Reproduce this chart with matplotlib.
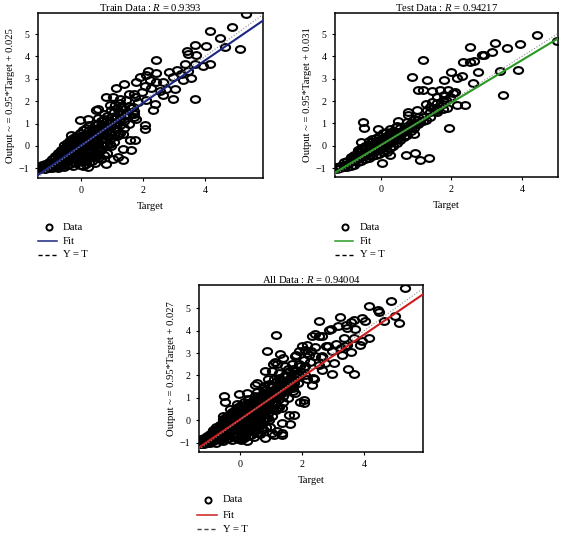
"""Regression plots (train / test / all) for the fitted network."""
import matplotlib

matplotlib.use("Agg")
import matplotlib.pyplot as plt  # noqa: E402
import numpy as np
from matplotlib.lines import Line2D
from matplotlib.path import Path
from matplotlib.transforms import Affine2D

W, H = 563, 534

# (target, output) pairs
train_points = [
    # dense core along the diagonal
    (-1.35, -1.0), (-1.35, -0.95),
    (-1.25, -1.05), (-1.25, -0.95), (-1.25, -0.85),
    (-1.15, -1.0), (-1.15, -0.9), (-1.15, -0.8), (-1.15, -1.05),
    (-1.05, -1.0), (-1.05, -0.9), (-1.05, -0.8), (-1.05, -0.7),
    (-0.95, -1.0), (-0.95, -0.85), (-0.95, -0.75), (-0.95, -0.6), (-0.95, -0.95),
    (-0.85, -0.95), (-0.85, -0.8), (-0.85, -0.7), (-0.85, -0.55), (-0.85, -0.45),
    (-0.75, -1.0), (-0.75, -0.85), (-0.75, -0.7), (-0.75, -0.6), (-0.75, -0.45), (-0.75, -0.3),
    (-0.65, -0.9), (-0.65, -0.75), (-0.65, -0.6), (-0.65, -0.5), (-0.65, -0.35), (-0.65, -0.2),
    (-0.55, -0.95), (-0.55, -0.8), (-0.55, -0.65), (-0.55, -0.5), (-0.55, -0.4), (-0.55, -0.25),
    (-0.55, -0.1), (-0.55, 0.05),
    (-0.45, -0.85), (-0.45, -0.7), (-0.45, -0.55), (-0.45, -0.4), (-0.45, -0.3), (-0.45, -0.15),
    (-0.45, 0.0), (-0.45, 0.15),
    (-0.35, -0.8), (-0.35, -0.6), (-0.35, -0.5), (-0.35, -0.35), (-0.35, -0.2), (-0.35, -0.05),
    (-0.35, 0.1), (-0.35, 0.25),
    (-0.25, -0.9), (-0.25, -0.7), (-0.25, -0.5), (-0.25, -0.4), (-0.25, -0.25), (-0.25, -0.1),
    (-0.25, 0.05), (-0.25, 0.2), (-0.25, 0.35),
    (-0.15, -0.75), (-0.15, -0.6), (-0.15, -0.45), (-0.15, -0.3), (-0.15, -0.15), (-0.15, 0.0),
    (-0.15, 0.15), (-0.15, 0.3), (-0.15, 0.45),
    (-0.05, -0.85), (-0.05, -0.65), (-0.05, -0.5), (-0.05, -0.35), (-0.05, -0.2), (-0.05, -0.05),
    (-0.05, 0.1), (-0.05, 0.25), (-0.05, 0.4), (-0.05, 0.6),
    (0.05, -0.9), (0.05, -0.7), (0.05, -0.5), (0.05, -0.3), (0.05, -0.15), (0.05, 0.0),
    (0.05, 0.15), (0.05, 0.3), (0.05, 0.5), (0.05, 0.7),
    (0.15, -0.8), (0.15, -0.55), (0.15, -0.4), (0.15, -0.2), (0.15, -0.05), (0.15, 0.1),
    (0.15, 0.25), (0.15, 0.4), (0.15, 0.55), (0.15, 0.8),
    (0.25, -0.7), (0.25, -0.5), (0.25, -0.3), (0.25, -0.15), (0.25, 0.05), (0.25, 0.2),
    (0.25, 0.35), (0.25, 0.5), (0.25, 0.7), (0.25, 0.95),
    (0.35, -0.65), (0.35, -0.4), (0.35, -0.2), (0.35, 0.0), (0.35, 0.15), (0.35, 0.3),
    (0.35, 0.45), (0.35, 0.6), (0.35, 0.8),
    (0.45, -0.75), (0.45, -0.45), (0.45, -0.25), (0.45, 0.05), (0.45, 0.25), (0.45, 0.4),
    (0.45, 0.55), (0.45, 0.75), (0.45, 0.95),
    (0.55, -0.55), (0.55, -0.3), (0.55, -0.05), (0.55, 0.2), (0.55, 0.4), (0.55, 0.6),
    (0.55, 0.8), (0.55, 1.0), (0.55, 1.25),
    (0.65, -0.6), (0.65, -0.2), (0.65, 0.1), (0.65, 0.3), (0.65, 0.5), (0.65, 0.7),
    (0.65, 0.9), (0.65, 1.1),
    (0.75, -0.4), (0.75, 0.0), (0.75, 0.3), (0.75, 0.55), (0.75, 0.75), (0.75, 0.95),
    (0.75, 1.2), (0.75, 1.45),
    (0.85, -0.3), (0.85, 0.1), (0.85, 0.45), (0.85, 0.7), (0.85, 0.9), (0.85, 1.1), (0.85, 1.35),
    (0.95, 0.0), (0.95, 0.35), (0.95, 0.6), (0.95, 0.85), (0.95, 1.05), (0.95, 1.3),
    (1.05, 0.2), (1.05, 0.5), (1.05, 0.8), (1.05, 1.0), (1.05, 1.25), (1.05, 1.5),
    (1.15, 0.45), (1.15, 0.75), (1.15, 1.05), (1.15, 1.3), (1.15, 1.7),
    (1.25, 0.6), (1.25, 0.95), (1.25, 1.2), (1.25, 1.5), (1.25, 1.9),
    (1.4, 0.8), (1.4, 1.1), (1.4, 1.35), (1.4, 1.65),
    (1.55, 1.0), (1.55, 1.4), (1.55, 1.8),
    (1.7, 1.3), (1.7, 1.55), (1.7, 2.3),
    # scattered points
    (5.31, 5.90), (4.17, 5.12), (4.87, 5.31), (4.47, 4.84), (5.12, 4.33), (4.63, 4.42),
    (4.04, 4.45), (3.67, 4.49), (3.42, 4.24), (3.45, 4.12), (3.72, 4.08), (4.15, 3.68),
    (3.94, 3.56), (3.67, 3.68), (3.34, 3.68), (3.56, 3.04), (3.24, 3.23), (2.97, 3.08),
    (2.41, 3.85), (2.16, 3.35), (2.43, 3.26), (3.29, 2.93), (3.67, 2.08), (2.97, 2.08),
    (2.65, 2.26), (2.75, 2.56), (3.02, 2.56), (2.65, 2.86), (2.43, 2.86), (2.22, 2.93),
    (1.78, 2.86), (1.89, 3.08), (2.11, 3.15), (1.38, 2.78), (1.14, 2.60), (1.03, 2.19),
    (0.80, 2.19), (0.55, 1.67), (0.92, 1.82), (1.46, 2.04), (1.73, 2.19), (1.68, 1.74),
    (2.32, 1.59), (2.37, 1.89), (2.11, 2.04), (1.95, 2.41), (1.46, 1.44), (1.78, 1.22),
    (2.05, 0.77), (2.05, 0.92), (1.73, 0.25), (1.62, -0.19), (1.35, -0.12), (1.35, -0.64),
    (1.19, -0.49), (1.03, -0.57), (0.82, -0.79), (0.49, -0.49), (0.60, -0.12), (0.23, -0.94),
    (0.12, -0.64), (-0.15, -0.64), (-0.31, 0.48), (0.23, 1.22), (0.49, 1.59), (-0.04, 1.15),
    (1.19, 0.55), (1.35, 0.55), (1.57, 0.25), (0.92, 0.10), (3.10, 3.40), (2.85, 3.30),
    (3.45, 3.35), (2.25, 2.60), (2.05, 2.70), (2.55, 2.45), (1.60, 1.70), (1.85, 1.95),
    (1.55, 2.30), (1.25, 2.10), (1.30, 1.75), (1.10, 1.85), (0.95, 1.60), (1.70, 1.45),
]

test_points = [
    (-1.25, -1.05), (-1.25, -0.95),
    (-1.15, -1.0), (-1.15, -0.9),
    (-1.05, -0.95), (-1.05, -0.85), (-1.05, -0.75),
    (-0.95, -0.95), (-0.95, -0.8), (-0.95, -0.7),
    (-0.85, -0.9), (-0.85, -0.75), (-0.85, -0.6), (-0.85, -0.5),
    (-0.75, -0.85), (-0.75, -0.7), (-0.75, -0.55), (-0.75, -0.4),
    (-0.65, -0.75), (-0.65, -0.6), (-0.65, -0.45), (-0.65, -0.3), (-0.65, -0.2),
    (-0.55, -0.7), (-0.55, -0.5), (-0.55, -0.4), (-0.55, -0.25), (-0.55, -0.1),
    (-0.45, -0.6), (-0.45, -0.45), (-0.45, -0.3), (-0.45, -0.15), (-0.45, 0.0),
    (-0.35, -0.55), (-0.35, -0.4), (-0.35, -0.25), (-0.35, -0.1), (-0.35, 0.05), (-0.35, 0.2),
    (-0.25, -0.45), (-0.25, -0.3), (-0.25, -0.15), (-0.25, 0.0), (-0.25, 0.15), (-0.25, 0.3),
    (-0.15, -0.4), (-0.15, -0.25), (-0.15, -0.1), (-0.15, 0.05), (-0.15, 0.2), (-0.15, 0.35),
    (-0.05, -0.35), (-0.05, -0.2), (-0.05, -0.05), (-0.05, 0.1), (-0.05, 0.25), (-0.05, 0.45),
    (0.05, -0.3), (0.05, -0.1), (0.05, 0.05), (0.05, 0.2), (0.05, 0.35), (0.05, 0.55),
    (0.15, -0.2), (0.15, 0.0), (0.15, 0.15), (0.15, 0.3), (0.15, 0.45), (0.15, 0.6),
    (0.25, -0.1), (0.25, 0.1), (0.25, 0.25), (0.25, 0.4), (0.25, 0.55), (0.25, 0.75),
    (0.35, 0.0), (0.35, 0.2), (0.35, 0.35), (0.35, 0.5), (0.35, 0.65),
    (0.45, 0.1), (0.45, 0.3), (0.45, 0.45), (0.45, 0.6), (0.45, 0.9),
    (0.55, 0.25), (0.55, 0.45), (0.55, 0.6), (0.55, 0.8),
    (0.65, 0.4), (0.65, 0.6), (0.65, 0.75),
    (0.75, 0.5), (0.75, 0.7), (0.75, 0.9), (0.75, 1.05),
    (0.85, 0.65), (0.85, 0.85), (0.85, 1.0),
    (0.95, 0.8), (0.95, 1.0), (0.95, 1.2),
    (1.05, 0.95), (1.05, 1.15), (1.05, 1.3),
    (1.2, 1.1), (1.2, 1.3),
    (1.4, 1.3), (1.4, 1.5), (1.4, 1.75),
    (1.6, 1.5), (1.6, 1.7), (1.6, 1.9),
    (1.75, 1.65), (1.75, 1.85), (1.75, 2.05),
    (5.0, 4.67), (4.43, 4.94), (3.94, 4.57), (3.58, 4.39), (3.23, 4.61), (3.15, 4.20),
    (2.92, 4.08), (2.86, 4.05), (2.65, 3.78), (2.54, 3.74), (2.32, 3.74), (2.54, 4.42),
    (2.76, 3.30), (3.37, 3.33), (3.88, 3.38), (3.47, 2.29), (2.60, 2.81), (2.29, 3.11),
    (2.00, 3.30), (2.15, 3.01), (1.80, 2.93), (1.30, 2.96), (1.18, 3.82), (0.87, 3.08),
    (1.91, 2.49), (1.67, 2.49), (1.44, 2.44), (1.20, 2.51), (1.06, 2.49), (2.10, 2.41),
    (1.79, 2.26), (1.58, 2.19), (1.46, 1.96), (1.29, 1.86), (2.15, 1.82), (2.38, 1.82),
    (1.88, 1.67), (1.58, 1.59), (1.32, 1.59), (1.03, 1.59), (0.78, 1.52), (0.78, 1.37),
    (1.29, 1.15), (1.11, 1.07), (0.89, 0.82), (0.95, 0.51), (1.94, 0.80), (-0.50, 1.07),
    (-0.47, 0.80), (-0.08, 0.73), (0.49, 1.10), (0.44, 0.85), (-0.55, 0.18), (0.71, -0.42),
    (0.96, -0.31), (1.11, -0.64), (1.37, -0.57), (0.02, -0.79), (0.26, -0.42), (0.16, -0.27),
    (-1.26, -1.01), (-1.30, -0.94), (1.95, 2.20), (2.05, 2.35), (1.85, 2.05),
]

titles = ["Train Data", "Test Data", "All Data"]
r_values = ["0.9393", "0.94217", "0.94004"]
slopes = [0.95, 0.95, 0.95]
intercepts = [0.025, 0.031, 0.027]
x_limits = [(-1.39, 5.87), (-1.30, 5.02), (-1.31, 5.89)]
y_limits = [(-1.43, 5.94), (-1.40, 5.94), (-1.42, 6.04)]
x_ticks = [0, 2, 4]
y_ticks = [-1, 0, 1, 2, 3, 4, 5]
legend_labels = ["Data", "Fit", "Y = T"]

FIT_COLORS = ["#1b2683", "#2a9a22", "#cc1e1e"]
# axes boxes in pixels: left, top, right, bottom
BOXES = [(38, 13, 263, 178), (335, 13, 558, 177), (199, 285, 423, 452)]
# legend layout in pixels: line start, line end, text x, row y's
LEGENDS = [
    (38, 57, 63, (227, 241, 255)),
    (335, 353, 360, (227, 241, 255)),
    (197, 217, 223, (500, 515, 529)),
]

FS = 7.7
plt.rcParams.update({
    "font.family": "Liberation Serif",
    "font.size": FS,
    "mathtext.fontset": "custom",
    "mathtext.rm": "Liberation Serif",
    "mathtext.it": "Liberation Serif:italic",
    "axes.linewidth": 1.1,
    "xtick.direction": "out",
    "ytick.direction": "out",
    "xtick.major.size": 2.5,
    "ytick.major.size": 2.5,
    "xtick.labelsize": 7.2,
    "ytick.labelsize": 7.2,
})

# circles in the original are slightly squashed
ELLIPSE = Affine2D().scale(1.0, 0.74).transform_path(Path.unit_circle())


def px_box(left, top, right, bottom):
    return [left / W, 1 - bottom / H, (right - left) / W, (bottom - top) / H]


def draw_panel(fig, i, pts):
    ax = fig.add_axes(px_box(*BOXES[i]))
    pts = np.asarray(pts)
    ax.plot(pts[:, 0], pts[:, 1], linestyle="none", marker=ELLIPSE,
            ms=6.6, mfc="none", mec="black", mew=1.5, zorder=2)
    x0, x1 = x_limits[i]
    xs = np.array([x0, x1])
    ax.plot(xs, slopes[i] * xs + intercepts[i], color=FIT_COLORS[i],
            lw=1.5, zorder=3)
    ax.plot([x0, 6.5], [x0, 6.5], color="#8a8a8a", lw=0.8, ls=":", zorder=4)
    ax.set_xlim(x0, x1)
    ax.set_ylim(*y_limits[i])
    ax.set_xticks(x_ticks)
    ax.set_yticks(y_ticks)
    ax.set_title(f"{titles[i]} : $\\mathit{{R}}$ = {r_values[i]}",
                 fontsize=FS, pad=1.5)
    ax.set_xlabel("Target", labelpad=5)
    ax.set_ylabel(f"Output ~ = {slopes[i]:.2f}*Target + {intercepts[i]}",
                  labelpad=3)
    return ax


def draw_legend(fig, i):
    xl0, xl1, xt, ys = LEGENDS[i]
    tr = fig.transFigure
    fx = lambda p: p / W
    fy = lambda p: 1 - p / H
    handles = [
        dict(marker="o", ls="none", ms=4.4, mfc="none", mec="black", mew=1.4),
        dict(color=FIT_COLORS[i], lw=1.1),
        dict(color="black" if i < 2 else "#444444", lw=1.0, ls="--",
             dashes=(3, 2)),
    ]
    for label, y, kw in zip(legend_labels, ys, handles):
        if kw.get("marker"):
            xs = [fx((xl0 + xl1) / 2 + 1)]
        else:
            xs = [fx(xl0), fx(xl1)]
        fig.add_artist(Line2D(xs, [fy(y)] * len(xs), transform=tr, **kw))
        fig.text(fx(xt), fy(y), label, ha="left", va="center", fontsize=FS)


def main():
    fig = plt.figure(figsize=(W / 100, H / 100), dpi=100)
    all_points = train_points + test_points
    for i, pts in enumerate([train_points, test_points, all_points]):
        draw_panel(fig, i, pts)
        draw_legend(fig, i)
    fig.savefig("out.png", dpi=100)
    plt.close(fig)


if __name__ == "__main__":
    main()
